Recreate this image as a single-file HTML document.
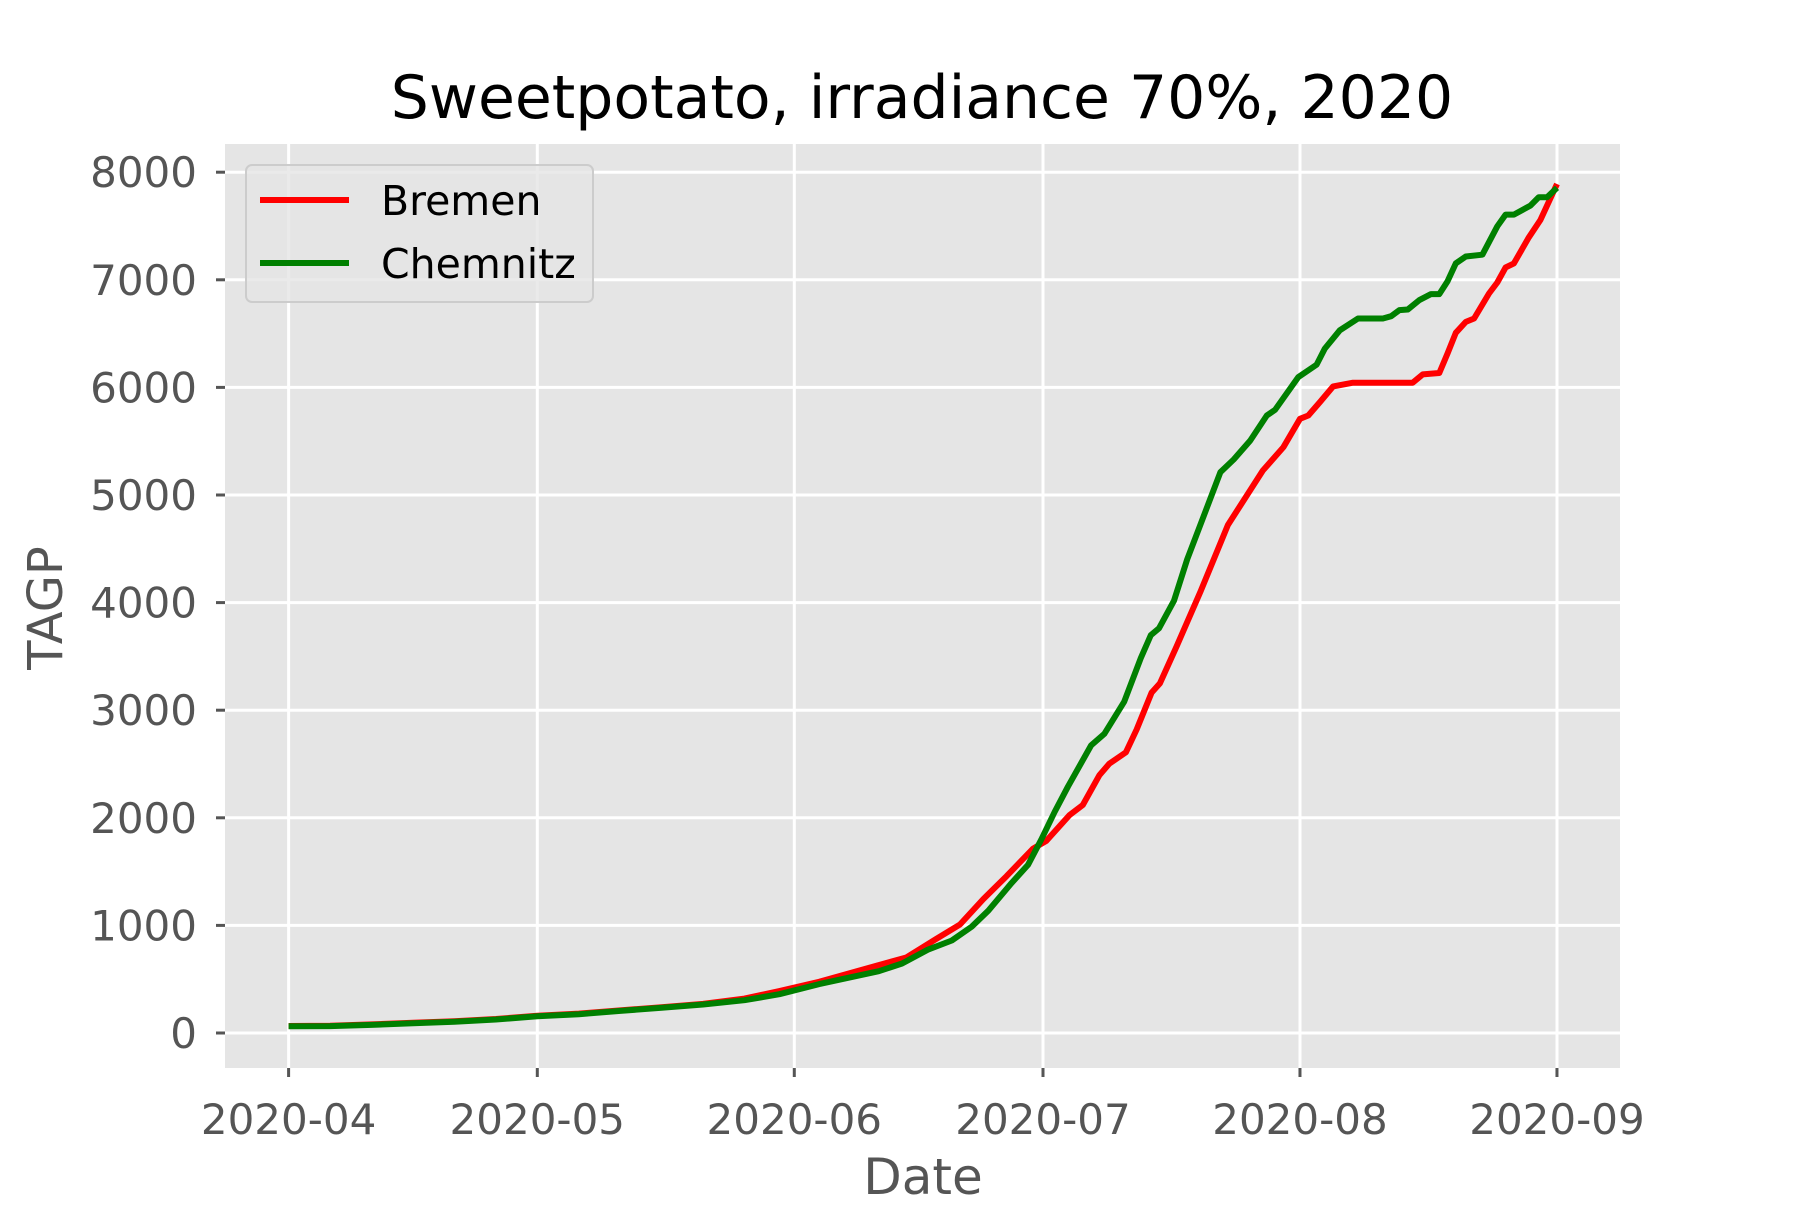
<!DOCTYPE html>
<html><head><meta charset="utf-8"><style>
body{margin:0;background:#fff;}
svg text{font-family:"DejaVu Sans","Liberation Sans",sans-serif;}
</style></head><body>
<svg id="chart" width="1800" height="1200" viewBox="0 0 1800 1200" xmlns="http://www.w3.org/2000/svg">
<rect x="0" y="0" width="1800" height="1200" fill="#ffffff"/>
<rect x="225" y="144" width="1395" height="924" fill="#E5E5E5"/>
<g id="grid"></g>
<g id="ticks"></g>
<g id="series"></g>
<text x="922" y="118" font-size="60" text-anchor="middle" fill="#000">Sweetpotato, irradiance 70%, 2020</text>
<text x="923" y="1194" font-size="50" text-anchor="middle" fill="#555">Date</text>
<text transform="translate(62,608) rotate(-90)" font-size="48" text-anchor="middle" fill="#555">TAGP</text>
<g>
<rect x="246" y="165" width="347" height="137" rx="6" fill="#E5E5E5" fill-opacity="0.8" stroke="#cccccc" stroke-width="2"/>
<line x1="260" y1="200" x2="349" y2="200" stroke="#ff0000" stroke-width="6"/>
<text x="381" y="215" font-size="41" fill="#000">Bremen</text>
<line x1="260" y1="263" x2="349" y2="263" stroke="#008000" stroke-width="6"/>
<text x="381" y="278" font-size="41" fill="#000">Chemnitz</text>
</g>
</svg>
<script>
const xTickLabels = ["2020-04","2020-05","2020-06","2020-07","2020-08","2020-09"];
const xTickDays = [0,30,61,91,122,153];
const yTicks = [0,1000,2000,3000,4000,5000,6000,7000,8000];
const bremenDays = [0,5,10,15,20,25,30,35,40,45,50,55,59.2,64,70.9,74.5,78.1,81,83.8,86.6,89.8,91.4,94.2,95.8,97.8,99,101,102.3,104.1,105.1,107.1,110,113.3,117.5,120,122,123,124.4,126,128.4,135.6,136.8,138.8,139.8,140.8,142,143,144.8,145.8,146.8,147.8,149.6,151,153];
const bremenValues = [65,68,80,95,110,130,160,180,210,240,270,320,390,476,625,702,873,1009,1244,1457,1713,1785,2025,2119,2396,2503,2609,2822,3164,3249,3591,4102,4721,5226,5444,5708,5739,5863,6009,6044,6044,6121,6134,6314,6507,6609,6640,6873,6975,7115,7152,7394,7556,7890];
const chemnitzDays = [0,5,10,15,20,25,30,35,40,45,50,55,59.2,64,71.2,74,77.1,80,82.4,84.4,87.2,89.2,90.8,92.4,94,96.8,98.4,100.8,102.8,104,105,106.8,108.4,110.4,112.4,114,116,118,119,121.8,124,125,126.8,129,132,133,134,135,136.4,137.8,138.8,139.8,140.8,142,144,145.8,146.8,147.8,149.8,150.8,151.8,153];
const chemnitzValues = [62,64,75,90,105,125,155,175,205,235,265,305,361,454,574,646,774,860,988,1137,1393,1564,1798,2054,2289,2673,2780,3079,3484,3697,3761,4018,4402,4807,5212,5330,5506,5739,5792,6096,6211,6361,6531,6640,6640,6662,6718,6724,6811,6867,6867,6985,7152,7217,7233,7497,7606,7606,7690,7767,7767,7855];

const NS = "http://www.w3.org/2000/svg";
const X0 = 288.6, PXD = 8.29, Y0 = 1033, PXV = 0.1076;
function xScale(d){ return X0 + d*PXD; }
function yScale(v){ return Y0 - v*PXV; }
function mk(tag, attrs, parent){ const e=document.createElementNS(NS,tag); for(const k in attrs) e.setAttribute(k,attrs[k]); parent.appendChild(e); return e; }

const grid=document.getElementById('grid'), ticks=document.getElementById('ticks'), series=document.getElementById('series');
yTicks.forEach(v=>{
  const y=yScale(v);
  const g=mk('line',{x1:225,x2:1620,y1:y,y2:y,stroke:'#fff','stroke-width':3},grid);
  
  
  const t=mk('line',{x1:216,x2:225,y1:y,y2:y,stroke:'#555','stroke-width':3},ticks);
  
  
  const l=mk('text',{x:197,y:y+15,'font-size':42,'text-anchor':'end',fill:'#555'},ticks);
  
  
  l.textContent=String(v);
});
xTickDays.forEach((d,i)=>{
  const x=xScale(d);
  const g=mk('line',{x1:x,x2:x,y1:144,y2:1068,stroke:'#fff','stroke-width':3},grid);
  
  
  const t=mk('line',{x1:x,x2:x,y1:1068,y2:1077,stroke:'#555','stroke-width':3},ticks);
  
  
  const l=mk('text',{x:x,y:1134,'font-size':42,'text-anchor':'middle',fill:'#555'},ticks);
  
  
  l.textContent=xTickLabels[i];
});
function drawLine(days, vals, color, name){
  const pts=days.map((d,i)=>xScale(d).toFixed(1)+','+yScale(vals[i]).toFixed(1)).join(' ');
  const p=mk('polyline',{points:pts,fill:'none',stroke:color,'stroke-width':6,'stroke-linejoin':'round'},series);
  
  
}
drawLine(bremenDays,bremenValues,'#ff0000','bremen-line');
drawLine(chemnitzDays,chemnitzValues,'#008000','chemnitz-line');
</script>
</body></html>
